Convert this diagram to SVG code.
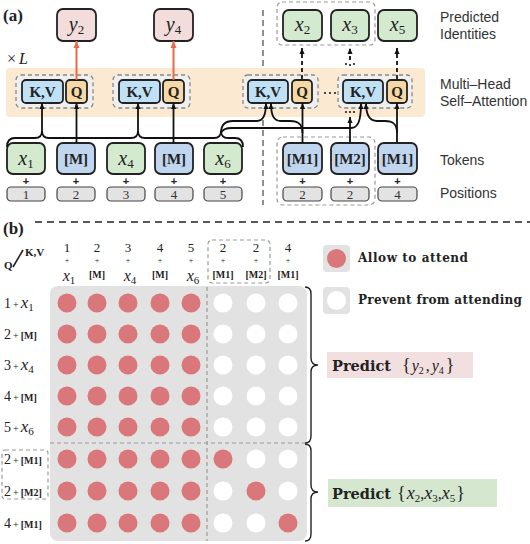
<svg xmlns="http://www.w3.org/2000/svg" width="530" height="544" viewBox="0 0 530 544">
<defs>
<style>
.sf{font-family:"Liberation Serif",serif}
.ds{font-family:"DejaVu Serif","Liberation Serif",serif;font-weight:bold}
.ss{font-family:"Liberation Sans",sans-serif}
.it{font-style:italic}
.bd{font-weight:bold}
.tok{stroke:#222;stroke-width:1.8}
.gr{fill:#d4eacf}
.bl{fill:#c0d6ee}
.pk{fill:#f2dcdc}
.pos{fill:#e3e3e3;stroke:#444;stroke-width:1.2}
.kv{fill:#bfe0f5;stroke:#222;stroke-width:1.8}
.q{fill:#f6d8a6;stroke:#222;stroke-width:1.8}
.grp{fill:#efefef;stroke:#888;stroke-width:1.3;stroke-dasharray:4 3}
.dbox{fill:none;stroke:#999;stroke-width:1.2;stroke-dasharray:4 3}
.conn{fill:none;stroke:#111;stroke-width:1.8}
.lbl{font-family:"Liberation Sans",sans-serif;font-size:14px;fill:#333}
.red{fill:#d9777a}
.wht{fill:#fff}
.plus{font-family:"Liberation Sans",sans-serif;font-size:11px;font-weight:bold;fill:#222}
</style>
<marker id="ah" viewBox="0 0 8 8" refX="8" refY="4" markerWidth="6" markerHeight="6" markerUnits="userSpaceOnUse" orient="auto"><path d="M0,0.6 L8,4 L0,7.4 z" fill="#111"/></marker>
<marker id="aho" viewBox="0 0 8 8" refX="8" refY="4" markerWidth="7" markerHeight="7" markerUnits="userSpaceOnUse" orient="auto"><path d="M0,0.6 L8,4 L0,7.4 z" fill="#e8694a"/></marker>
</defs>
<rect width="530" height="544" fill="#fff"/>

<!-- ===== Part (a) ===== -->
<text x="3" y="21" class="sf bd" font-size="17" fill="#222">(a)</text>
<line x1="263" y1="10" x2="263" y2="205" stroke="#555" stroke-width="1.3" stroke-dasharray="6 4"/>
<text x="7" y="64" class="sf" font-size="16" fill="#222">×<tspan class="it" dx="3">L</tspan></text>
<rect x="6" y="68" width="419" height="49" rx="4" fill="#fbe9d2"/>

<g id="out-y2"><rect x="57" y="9" width="39" height="32" rx="6" class="tok pk"/><text x="76.5" y="31" text-anchor="middle" class="sf" font-size="20" fill="#222"><tspan class="it">y</tspan><tspan font-size="13" dy="3">2</tspan></text></g>
<g id="out-y4"><rect x="154" y="9" width="39" height="32" rx="6" class="tok pk"/><text x="173.5" y="31" text-anchor="middle" class="sf" font-size="20" fill="#222"><tspan class="it">y</tspan><tspan font-size="13" dy="3">4</tspan></text></g>
<rect x="277" y="2" width="98" height="43" rx="5" class="dbox"/>
<g id="out-x2"><rect x="283" y="10" width="39" height="31" rx="6" class="tok gr"/><text x="302.5" y="31" text-anchor="middle" class="sf" font-size="20" fill="#222"><tspan class="it">x</tspan><tspan font-size="13" dy="3">2</tspan></text></g>
<g id="out-x3"><rect x="331" y="10" width="38" height="31" rx="6" class="tok gr"/><text x="350" y="31" text-anchor="middle" class="sf" font-size="20" fill="#222"><tspan class="it">x</tspan><tspan font-size="13" dy="3">3</tspan></text></g>
<g id="out-x5"><rect x="378" y="10" width="39" height="31" rx="6" class="tok gr"/><text x="397.5" y="31" text-anchor="middle" class="sf" font-size="20" fill="#222"><tspan class="it">x</tspan><tspan font-size="13" dy="3">5</tspan></text></g>

<text x="440" y="22" class="lbl">Predicted</text>
<text x="440" y="39" class="lbl">Identities</text>
<text x="440" y="89" class="lbl">Multi–Head</text>
<text x="440" y="106" class="lbl">Self–Attention</text>
<text x="440" y="165" class="lbl">Tokens</text>
<text x="440" y="198" class="lbl">Positions</text>

<!-- attention groups -->
<g id="attn1"><rect x="16" y="75" width="77" height="33" rx="5" class="grp"/><rect x="22" y="80" width="41" height="23" rx="4" class="kv"/><rect x="66" y="80" width="21" height="23" rx="4" class="q"/><text x="42.5" y="97" text-anchor="middle" class="sf bd" font-size="15" fill="#222">K,V</text><text x="76.5" y="97" text-anchor="middle" class="sf bd" font-size="15" fill="#222">Q</text></g>
<g id="attn2"><rect x="113" y="75" width="77" height="33" rx="5" class="grp"/><rect x="119" y="80" width="41" height="23" rx="4" class="kv"/><rect x="163" y="80" width="21" height="23" rx="4" class="q"/><text x="139.5" y="97" text-anchor="middle" class="sf bd" font-size="15" fill="#222">K,V</text><text x="173.5" y="97" text-anchor="middle" class="sf bd" font-size="15" fill="#222">Q</text></g>
<g id="attn3"><rect x="243" y="75" width="75" height="33" rx="5" class="grp"/><rect x="248" y="80" width="40" height="23" rx="4" class="kv"/><rect x="292" y="80" width="20" height="23" rx="4" class="q"/><text x="268" y="97" text-anchor="middle" class="sf bd" font-size="15" fill="#222">K,V</text><text x="302" y="97" text-anchor="middle" class="sf bd" font-size="15" fill="#222">Q</text></g>
<g id="attn4"><rect x="338" y="75" width="74" height="33" rx="5" class="grp"/><rect x="343" y="80" width="40" height="23" rx="4" class="kv"/><rect x="387" y="80" width="20" height="23" rx="4" class="q"/><text x="363" y="97" text-anchor="middle" class="sf bd" font-size="15" fill="#222">K,V</text><text x="397" y="97" text-anchor="middle" class="sf bd" font-size="15" fill="#222">Q</text></g>
<g fill="#222"><circle cx="325" cy="93" r="1.1"/><circle cx="330" cy="93" r="1.1"/><circle cx="335" cy="93" r="1.1"/>
<circle cx="346" cy="112" r="1.1"/><circle cx="350" cy="112" r="1.1"/><circle cx="354" cy="112" r="1.1"/>
<circle cx="346" cy="64" r="1.1"/><circle cx="350" cy="65" r="1.1"/><circle cx="354" cy="64" r="1.1"/></g>

<!-- tokens -->
<g id="tok-x1"><rect x="7" y="143" width="38" height="31" rx="6" class="tok gr"/><text x="26" y="165" text-anchor="middle" class="sf" font-size="20" fill="#222"><tspan class="it">x</tspan><tspan font-size="13" dy="3">1</tspan></text><text x="26" y="185" text-anchor="middle" class="plus">+</text><rect x="7" y="187" width="38" height="14" rx="4" class="pos"/><text x="26" y="198.5" text-anchor="middle" class="sf" font-size="13" fill="#333">1</text></g>
<g id="tok-m2"><rect x="57" y="143" width="38" height="31" rx="6" class="tok bl"/><text x="76" y="164" text-anchor="middle" class="sf bd" font-size="15" fill="#222">[M]</text><text x="76" y="185" text-anchor="middle" class="plus">+</text><rect x="57" y="187" width="38" height="14" rx="4" class="pos"/><text x="76" y="198.5" text-anchor="middle" class="sf" font-size="13" fill="#333">2</text></g>
<g id="tok-x4"><rect x="107" y="143" width="38" height="31" rx="6" class="tok gr"/><text x="126" y="165" text-anchor="middle" class="sf" font-size="20" fill="#222"><tspan class="it">x</tspan><tspan font-size="13" dy="3">4</tspan></text><text x="126" y="185" text-anchor="middle" class="plus">+</text><rect x="107" y="187" width="38" height="14" rx="4" class="pos"/><text x="126" y="198.5" text-anchor="middle" class="sf" font-size="13" fill="#333">3</text></g>
<g id="tok-m4"><rect x="155" y="143" width="38" height="31" rx="6" class="tok bl"/><text x="174" y="164" text-anchor="middle" class="sf bd" font-size="15" fill="#222">[M]</text><text x="174" y="185" text-anchor="middle" class="plus">+</text><rect x="155" y="187" width="38" height="14" rx="4" class="pos"/><text x="174" y="198.5" text-anchor="middle" class="sf" font-size="13" fill="#333">4</text></g>
<g id="tok-x6"><rect x="204" y="143" width="38" height="31" rx="6" class="tok gr"/><text x="223" y="165" text-anchor="middle" class="sf" font-size="20" fill="#222"><tspan class="it">x</tspan><tspan font-size="13" dy="3">6</tspan></text><text x="223" y="185" text-anchor="middle" class="plus">+</text><rect x="204" y="187" width="38" height="14" rx="4" class="pos"/><text x="223" y="198.5" text-anchor="middle" class="sf" font-size="13" fill="#333">5</text></g>
<rect x="277" y="137" width="98" height="68" rx="6" class="dbox"/>
<g id="tok-m1a"><rect x="283" y="143" width="39" height="31" rx="6" class="tok bl"/><text x="302.5" y="164" text-anchor="middle" class="sf bd" font-size="15" fill="#222">[M1]</text><text x="302.5" y="185" text-anchor="middle" class="plus">+</text><rect x="283" y="187" width="39" height="14" rx="4" class="pos"/><text x="302.5" y="198.5" text-anchor="middle" class="sf" font-size="13" fill="#333">2</text></g>
<g id="tok-m2b"><rect x="331" y="143" width="38" height="31" rx="6" class="tok bl"/><text x="350" y="164" text-anchor="middle" class="sf bd" font-size="15" fill="#222">[M2]</text><text x="350" y="185" text-anchor="middle" class="plus">+</text><rect x="331" y="187" width="38" height="14" rx="4" class="pos"/><text x="350" y="198.5" text-anchor="middle" class="sf" font-size="13" fill="#333">2</text></g>
<g id="tok-m1b"><rect x="378" y="143" width="39" height="31" rx="6" class="tok bl"/><text x="397.5" y="164" text-anchor="middle" class="sf bd" font-size="15" fill="#222">[M1]</text><text x="397.5" y="185" text-anchor="middle" class="plus">+</text><rect x="378" y="187" width="39" height="14" rx="4" class="pos"/><text x="397.5" y="198.5" text-anchor="middle" class="sf" font-size="13" fill="#333">4</text></g>

<!-- connectors -->
<g id="connectors">
<path class="conn" d="M7,147 Q7,138 15,138 L35,138 Q42,138 42,131 Q42,138 49,138 L131,138 Q138,138 138,131 Q138,138 145,138 L214,138 Q221,138 221,131 Q221,138 228,138 L235,138 Q243,138 243,147"/>
<path class="conn" d="M42,132 L42,103" marker-end="url(#ah)"/>
<path class="conn" d="M138,132 L138,103" marker-end="url(#ah)"/>
<path class="conn" d="M76.5,143 L76.5,103" marker-end="url(#ah)"/>
<path class="conn" d="M173.5,143 L173.5,103" marker-end="url(#ah)"/>
<path class="conn" d="M221,133 C221,125 225,121 233,121 L257,121 C263,121 266,116 266,103" marker-end="url(#ah)"/>
<path class="conn" d="M221,133 C222,130 226,128 232,128 L351,128 C358,128 361,121 361,103" marker-end="url(#ah)"/>
<path class="conn" d="M302.5,143 L302.5,103" marker-end="url(#ah)"/>
<path class="conn" d="M302.5,133 C302.5,124 298,121 290,121 L281,121 C274,121 271,116 271,103" marker-end="url(#ah)"/>
<path class="conn" d="M350,143 L350,117" marker-end="url(#ah)"/>
<path class="conn" d="M397,143 L397,103" marker-end="url(#ah)"/>
<path class="conn" d="M397,133 C397,124 393,121 385,121 L377,121 C370,121 366,116 366,103" marker-end="url(#ah)"/>
<path d="M76.5,80 L76.5,41" fill="none" stroke="#e8694a" stroke-width="2" marker-end="url(#aho)"/>
<path d="M173.5,80 L173.5,41" fill="none" stroke="#e8694a" stroke-width="2" marker-end="url(#aho)"/>
<path class="conn" d="M302,79 L302,48" stroke-dasharray="4 3" marker-end="url(#ah)"/>
<path class="conn" d="M350,60 L350,48" stroke-dasharray="4 3" marker-end="url(#ah)"/>
<path class="conn" d="M397,79 L397,48" stroke-dasharray="4 3" marker-end="url(#ah)"/>
</g>

<!-- ===== Part (b) ===== -->
<text x="3" y="234" class="sf bd" font-size="17" fill="#222">(b)</text>
<line x1="35" y1="222" x2="530" y2="222" stroke="#222" stroke-width="1.3" stroke-dasharray="7 5"/>
<text x="4" y="269" class="sf bd" font-size="11" fill="#222">Q</text>
<line x1="13" y1="267" x2="23" y2="250" stroke="#222" stroke-width="1.6"/>
<text x="25" y="256" class="sf bd" font-size="11" fill="#222">K,V</text>

<g id="col-headers" class="sf" fill="#222" text-anchor="middle">
<text x="67" y="252" font-size="13">1<tspan x="67" y="263" font-size="8">+</tspan><tspan x="69" y="281" font-size="16" class="it">x</tspan><tspan font-size="11" dy="3">1</tspan></text>
<text x="97" y="252" font-size="13">2<tspan x="97" y="263" font-size="8">+</tspan><tspan x="97" y="278" font-size="10" class="bd">[M]</tspan></text>
<text x="128" y="252" font-size="13">3<tspan x="128" y="263" font-size="8">+</tspan><tspan x="130" y="281" font-size="16" class="it">x</tspan><tspan font-size="11" dy="3">4</tspan></text>
<text x="160" y="252" font-size="13">4<tspan x="160" y="263" font-size="8">+</tspan><tspan x="160" y="278" font-size="10" class="bd">[M]</tspan></text>
<text x="191" y="252" font-size="13">5<tspan x="191" y="263" font-size="8">+</tspan><tspan x="193" y="281" font-size="16" class="it">x</tspan><tspan font-size="11" dy="3">6</tspan></text>
<text x="223" y="252" font-size="13">2<tspan x="223" y="263" font-size="8">+</tspan><tspan x="223" y="278" font-size="10" class="bd">[M1]</tspan></text>
<text x="256" y="252" font-size="13">2<tspan x="256" y="263" font-size="8">+</tspan><tspan x="256" y="278" font-size="10" class="bd">[M2]</tspan></text>
<text x="288" y="252" font-size="13">4<tspan x="288" y="263" font-size="8">+</tspan><tspan x="288" y="278" font-size="10" class="bd">[M1]</tspan></text>
</g>
<rect x="208" y="240" width="62" height="43" rx="4" class="dbox"/>

<g id="row-labels" class="sf" fill="#222">
<text x="4" y="308" font-size="14">1<tspan font-size="10" dx="2">+</tspan><tspan class="it" font-size="17" dx="2">x</tspan><tspan font-size="11" dy="3">1</tspan></text>
<text x="4" y="339" font-size="14">2<tspan font-size="10" dx="2">+</tspan><tspan class="bd" font-size="10" dx="2">[M]</tspan></text>
<text x="4" y="370" font-size="14">3<tspan font-size="10" dx="2">+</tspan><tspan class="it" font-size="17" dx="2">x</tspan><tspan font-size="11" dy="3">4</tspan></text>
<text x="4" y="401" font-size="14">4<tspan font-size="10" dx="2">+</tspan><tspan class="bd" font-size="10" dx="2">[M]</tspan></text>
<text x="4" y="432" font-size="14">5<tspan font-size="10" dx="2">+</tspan><tspan class="it" font-size="17" dx="2">x</tspan><tspan font-size="11" dy="3">6</tspan></text>
<text x="4" y="464" font-size="14">2<tspan font-size="10" dx="2">+</tspan><tspan class="bd" font-size="10" dx="2">[M1]</tspan></text>
<text x="4" y="496" font-size="14">2<tspan font-size="10" dx="2">+</tspan><tspan class="bd" font-size="10" dx="2">[M2]</tspan></text>
<text x="4" y="528" font-size="14">4<tspan font-size="10" dx="2">+</tspan><tspan class="bd" font-size="10" dx="2">[M1]</tspan></text>
</g>
<rect x="2" y="450" width="46" height="49" rx="3" class="dbox"/>

<g id="matrix">
<rect x="50" y="286" width="257" height="255" rx="8" fill="#e2e2e2"/>
<line x1="207" y1="287" x2="207" y2="541" stroke="#999" stroke-width="1.2" stroke-dasharray="4 3"/>
<line x1="50" y1="443" x2="305" y2="443" stroke="#999" stroke-width="1.2" stroke-dasharray="4 3"/>
<g class="red">
<circle cx="67" cy="303" r="9.5"/><circle cx="97" cy="303" r="9.5"/><circle cx="128" cy="303" r="9.5"/><circle cx="160" cy="303" r="9.5"/><circle cx="191" cy="303" r="9.5"/>
<circle cx="67" cy="334" r="9.5"/><circle cx="97" cy="334" r="9.5"/><circle cx="128" cy="334" r="9.5"/><circle cx="160" cy="334" r="9.5"/><circle cx="191" cy="334" r="9.5"/>
<circle cx="67" cy="365" r="9.5"/><circle cx="97" cy="365" r="9.5"/><circle cx="128" cy="365" r="9.5"/><circle cx="160" cy="365" r="9.5"/><circle cx="191" cy="365" r="9.5"/>
<circle cx="67" cy="396" r="9.5"/><circle cx="97" cy="396" r="9.5"/><circle cx="128" cy="396" r="9.5"/><circle cx="160" cy="396" r="9.5"/><circle cx="191" cy="396" r="9.5"/>
<circle cx="67" cy="427" r="9.5"/><circle cx="97" cy="427" r="9.5"/><circle cx="128" cy="427" r="9.5"/><circle cx="160" cy="427" r="9.5"/><circle cx="191" cy="427" r="9.5"/>
<circle cx="67" cy="459" r="9.5"/><circle cx="97" cy="459" r="9.5"/><circle cx="128" cy="459" r="9.5"/><circle cx="160" cy="459" r="9.5"/><circle cx="191" cy="459" r="9.5"/>
<circle cx="67" cy="491" r="9.5"/><circle cx="97" cy="491" r="9.5"/><circle cx="128" cy="491" r="9.5"/><circle cx="160" cy="491" r="9.5"/><circle cx="191" cy="491" r="9.5"/>
<circle cx="67" cy="523" r="9.5"/><circle cx="97" cy="523" r="9.5"/><circle cx="128" cy="523" r="9.5"/><circle cx="160" cy="523" r="9.5"/><circle cx="191" cy="523" r="9.5"/>
<circle cx="223" cy="459" r="9.5"/><circle cx="256" cy="491" r="9.5"/><circle cx="288" cy="523" r="9.5"/>
</g>
<g class="wht">
<circle cx="223" cy="303" r="9.5"/><circle cx="256" cy="303" r="9.5"/><circle cx="288" cy="303" r="9.5"/>
<circle cx="223" cy="334" r="9.5"/><circle cx="256" cy="334" r="9.5"/><circle cx="288" cy="334" r="9.5"/>
<circle cx="223" cy="365" r="9.5"/><circle cx="256" cy="365" r="9.5"/><circle cx="288" cy="365" r="9.5"/>
<circle cx="223" cy="396" r="9.5"/><circle cx="256" cy="396" r="9.5"/><circle cx="288" cy="396" r="9.5"/>
<circle cx="223" cy="427" r="9.5"/><circle cx="256" cy="427" r="9.5"/><circle cx="288" cy="427" r="9.5"/>
<circle cx="256" cy="459" r="9.5"/><circle cx="288" cy="459" r="9.5"/>
<circle cx="223" cy="491" r="9.5"/><circle cx="288" cy="491" r="9.5"/>
<circle cx="223" cy="523" r="9.5"/><circle cx="256" cy="523" r="9.5"/>
</g>
</g>

<g id="braces" fill="none" stroke="#222" stroke-width="1.4">
<path d="M305,287 Q311,287 311,294 L311,358 Q311,365 318,365 Q311,365 311,372 L311,436 Q311,443 305,443"/>
<path d="M305,444 Q311,444 311,451 L311,485 Q311,492 318,492 Q311,492 311,499 L311,534 Q311,541 305,541"/>
</g>

<g id="legend">
<rect x="323" y="245" width="27" height="27" rx="4" fill="#e2e2e2"/><circle cx="336.5" cy="258.5" r="9.5" class="red"/>
<text x="358" y="262" class="ds" font-size="12" fill="#222" textLength="110" lengthAdjust="spacing">Allow to attend</text>
<rect x="323" y="287" width="27" height="27" rx="4" fill="#e2e2e2"/><circle cx="336.5" cy="300.5" r="9.5" class="wht"/>
<text x="358" y="304" class="ds" font-size="12" fill="#222" textLength="164" lengthAdjust="spacing">Prevent from attending</text>
</g>

<g id="predict-y">
<rect x="327" y="352" width="146" height="26" fill="#f2dfdf"/>
<text x="332" y="371" class="ds" font-size="14" fill="#222" textLength="59" lengthAdjust="spacingAndGlyphs">Predict</text>
<text x="402" y="371" class="sf" font-size="18" fill="#222">{<tspan class="it" font-size="16" dx="1">y</tspan><tspan font-size="10" dy="3">2</tspan><tspan dy="-3" font-size="16" dx="2">,</tspan><tspan class="it" font-size="16" dx="2">y</tspan><tspan font-size="10" dy="3">4</tspan><tspan dy="-3" dx="2">}</tspan></text>
</g>
<g id="predict-x">
<rect x="328" y="479" width="169" height="28" fill="#d5e8cf"/>
<text x="332" y="499" class="ds" font-size="14" fill="#222" textLength="59" lengthAdjust="spacingAndGlyphs">Predict</text>
<text x="397" y="499" class="sf" font-size="18" fill="#222">{<tspan class="it" font-size="18" dx="1">x</tspan><tspan font-size="11" dy="3">2</tspan><tspan dy="-3" font-size="16">,</tspan><tspan class="it" font-size="18">x</tspan><tspan font-size="11" dy="3">3</tspan><tspan dy="-3" font-size="16">,</tspan><tspan class="it" font-size="18">x</tspan><tspan font-size="11" dy="3">5</tspan><tspan dy="-3" dx="1">}</tspan></text>
</g>
</svg>
